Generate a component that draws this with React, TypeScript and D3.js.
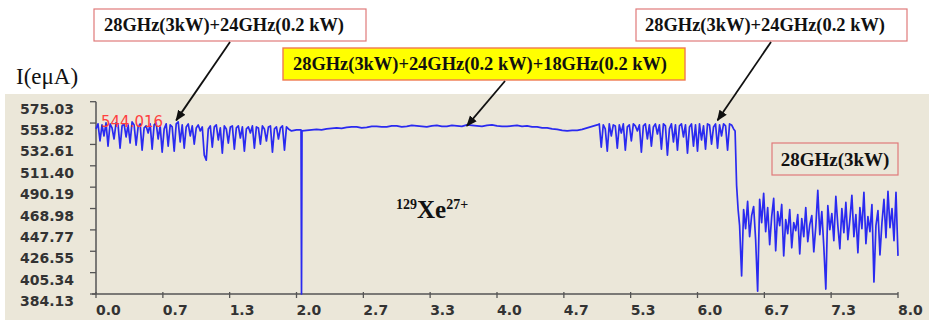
import * as d3 from 'd3'

// sampled current I(eμA) vs time
const sampleStep = 0.02

const seg1Start = 0
const seg1Values = [
  548, 553, 536, 552, 541, 554, 531, 553, 549, 538,
  554, 552, 529, 551, 553, 540, 552, 534, 555, 552,
  532, 550, 553, 527, 549, 551, 544, 553, 528, 552,
  554, 538, 551, 525, 548, 553, 531, 552, 550, 526,
  553, 555, 535, 552, 529, 550, 553, 541, 551, 533,
  549, 552, 546, 550, 522, 517, 548, 551, 530, 550,
  552, 537, 549, 524, 551, 548, 534, 550, 551, 528,
  549, 551, 539, 550, 526, 548, 550, 544, 551, 529,
  550, 549, 533, 551, 548, 536, 550, 551, 525, 548,
  550, 538, 549, 551, 527, 550, 548,
]

const spikeTimes = [1.95, 2.0, 2.045, 2.05, 2.055]
const spikeValues = [546, 547, 547, 384.13, 546]

const seg2Start = 2.1
const seg2Step = 0.05
const seg2Values = [
  546.5, 547, 547.5, 547, 548, 548.5, 549, 548.5, 549.5, 550,
  550, 549, 549.5, 550.5, 550.5, 550, 550, 551, 551, 550,
  550.5, 551.5, 551, 550.5, 550, 551, 551.5, 550.5, 550.5, 551.5,
  551, 550.5, 552, 551.5, 551, 550.5, 551.5, 552, 551, 550.5,
  550.5, 551, 551.5, 550.5, 551, 550, 550, 549, 549, 548,
  547.5, 546.5, 546, 546.5, 546.5, 547.5, 549, 550.5, 552,
]

const seg3Start = 5.02
const seg3Values = [
  553, 530, 552, 548, 526, 553, 541, 552, 551, 529,
  552, 544, 553, 527, 550, 552, 536, 553, 551, 546,
  552, 525, 551, 553, 538, 552, 531, 550, 553, 543,
  552, 528, 553, 551, 522, 548, 553, 535, 552, 527,
  551, 553, 540, 552, 524, 550, 553, 531, 552, 526,
  553, 537, 551, 528, 553, 552, 533, 550, 553, 529,
  552, 541, 553, 551, 527, 553, 552, 548,
]

const dropTimes = [6.375, 6.39, 6.405]
const dropValues = [546, 492, 468]

const seg4Start = 6.42
const seg4Values = [
  452, 402, 468, 449, 476, 441, 462, 471, 438, 387,
  478, 455, 484, 446, 470, 433, 461, 479, 427, 466,
  452, 473, 422, 458, 444, 468, 430, 455, 447, 463,
  424, 459, 441, 470, 436, 453, 462, 426, 451, 487,
  443, 466, 431, 389, 472, 448, 464, 437, 481, 452,
  429, 469, 445, 475, 438, 458, 482, 441, 463, 425,
  470, 449, 485, 434, 461, 446, 473, 396, 452, 467,
  423, 455, 478, 440, 486, 450, 469, 437, 485, 422,
]

const yTicks = [575.03, 553.82, 532.61, 511.4, 490.19, 468.98, 447.77, 426.55, 405.34, 384.13]
const xTicks = [0, 0.667, 1.333, 2, 2.667, 3.333, 4, 4.667, 5.333, 6, 6.667, 7.333, 8]

const W = 929
const H = 320

export default function App() {
  const x = d3.scaleLinear().domain([0, 8]).range([96, 898])
  const y = d3.scaleLinear().domain([384.13, 575.03]).range([294, 101.7])

  const points: [number, number][] = [
    ...seg1Values.map((v, i) => [seg1Start + i * sampleStep, v] as [number, number]),
    ...spikeTimes.map((t, i) => [t, spikeValues[i]] as [number, number]),
    ...seg2Values.map((v, i) => [seg2Start + i * seg2Step, v] as [number, number]),
    ...seg3Values.map((v, i) => [seg3Start + i * sampleStep, v] as [number, number]),
    ...dropTimes.map((t, i) => [t, dropValues[i]] as [number, number]),
    ...seg4Values.map((v, i) => [seg4Start + i * sampleStep, v] as [number, number]),
  ]

  const line = d3.line<[number, number]>().x(d => x(d[0])).y(d => y(d[1]))
  const fmtY = d3.format('.2f')
  const fmtX = d3.format('.1f')

  const serif = "'Liberation Serif', 'Times New Roman', serif"
  const sans = "'DejaVu Sans', Verdana, sans-serif"

  // annotation arrows: box anchor -> point on the trace
  const arrows = [
    { x1: 230, y1: 42, t: 0.8, v: 556.5 },
    { x1: 505, y1: 81, t: 3.7, v: 551 },
    { x1: 771, y1: 42, t: 6.2, v: 556.5 },
  ]

  return (
    <svg width={W} height={H} style={{ position: 'absolute', left: 0, top: 0, background: '#fff' }}>
      <defs>
        <marker id="ah" viewBox="0 0 10 10" refX="9" refY="5" markerWidth="11" markerHeight="11"
          markerUnits="userSpaceOnUse" orient="auto">
          <path d="M0,1 L10,5 L0,9 z" fill="#111" />
        </marker>
      </defs>

      <rect x={5} y={94} width={W - 5} height={H - 94} fill="#ebe7d9" />

      {/* y axis */}
      <line x1={96} x2={96} y1={y(575.03)} y2={y(384.13)} stroke="#555" strokeWidth={1.5} />
      {yTicks.map(v => (
        <g key={v}>
          <line x1={90} x2={96} y1={y(v)} y2={y(v)} stroke="#555" strokeWidth={1.3} />
          <text x={74} y={y(v) + 7} textAnchor="end" dominantBaseline="central"
            fontFamily={sans} fontWeight="bold" fontSize={14} fill="#333">{fmtY(v)}</text>
        </g>
      ))}

      {/* x axis */}
      <line x1={92} x2={x(8)} y1={294} y2={294} stroke="#555" strokeWidth={1.5} />
      {xTicks.map(t => (
        <g key={t}>
          <line x1={x(t)} x2={x(t)} y1={292} y2={298} stroke="#555" strokeWidth={1.3} />
          <text x={x(t)} y={310} dominantBaseline="central"
            fontFamily={sans} fontWeight="bold" fontSize={14} fill="#333">{fmtX(t)}</text>
        </g>
      ))}

      <path d={line(points) ?? ''} fill="none" stroke="#2a2af0" strokeWidth={1.7} strokeLinejoin="round" />

      <text x={101} y={127} fontFamily={sans} fontSize={15} fill="#ff4040">544.016</text>

      <text x={16} y={84} fontFamily={serif} fontSize={23} fill="#111">I(eμA)</text>

      <text x={396} y={218} fontFamily={serif} fontWeight="bold" fill="#111">
        <tspan fontSize={14} dy={-9}>129</tspan>
        <tspan fontSize={25} dy={9}>Xe</tspan>
        <tspan fontSize={14} dy={-9}>27+</tspan>
      </text>

      {/* annotation boxes */}
      <rect x={94} y={9} width={272} height={32} fill="#fff" stroke="#e07a7a" strokeWidth={1.2} />
      <text x={104} y={25} dominantBaseline="central" fontFamily={serif} fontWeight="bold" fontSize={18}
        textLength={240} lengthAdjust="spacingAndGlyphs" fill="#111">28GHz(3kW)+24GHz(0.2 kW)</text>

      <rect x={283} y={48} width={402} height={32} fill="#ffff00" stroke="#f07a50" strokeWidth={1.4} />
      <text x={293} y={64} dominantBaseline="central" fontFamily={serif} fontWeight="bold" fontSize={18}
        textLength={374} lengthAdjust="spacingAndGlyphs" fill="#111">28GHz(3kW)+24GHz(0.2 kW)+18GHz(0.2 kW)</text>

      <rect x={636} y={9} width={271} height={32} fill="#fff" stroke="#e07a7a" strokeWidth={1.2} />
      <text x={645} y={25} dominantBaseline="central" fontFamily={serif} fontWeight="bold" fontSize={18}
        textLength={240} lengthAdjust="spacingAndGlyphs" fill="#111">28GHz(3kW)+24GHz(0.2 kW)</text>

      <rect x={772} y={143} width={126} height={32} fill="none" stroke="#e07a7a" strokeWidth={1.2} />
      <text x={835} y={159} textAnchor="middle" dominantBaseline="central" fontFamily={serif}
        fontWeight="bold" fontSize={19} fill="#111">28GHz(3kW)</text>

      {arrows.map((a, i) => (
        <line key={i} x1={a.x1} y1={a.y1} x2={x(a.t)} y2={y(a.v)} stroke="#111" strokeWidth={1.8}
          markerEnd="url(#ah)" />
      ))}
    </svg>
  )
}
